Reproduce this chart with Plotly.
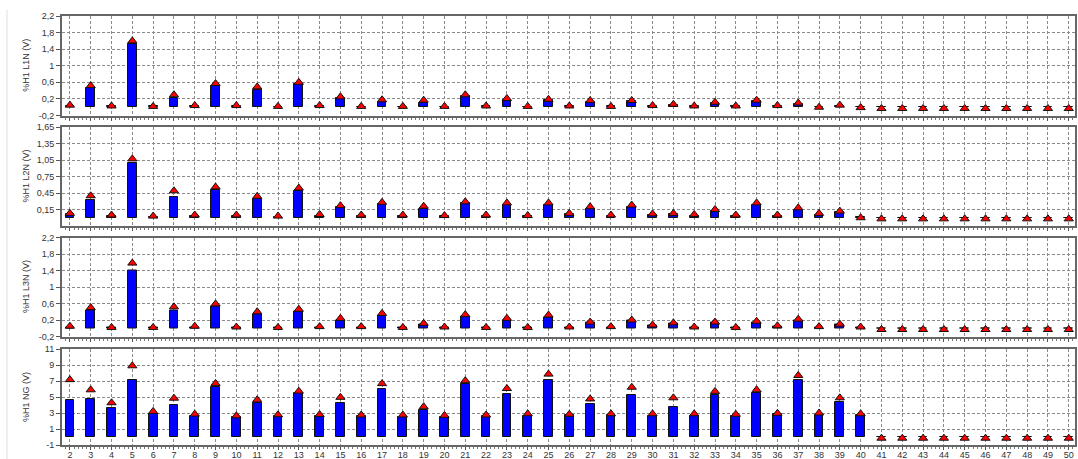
import plotly.graph_objects as go

harmonics = list(range(2, 51))

l1n_avg = [0.03, 0.46, 0.02, 1.52, 0.02, 0.22, 0.03, 0.52, 0.03, 0.41, 0.01, 0.55, 0.03, 0.22, 0.01, 0.12,
           0.01, 0.10, 0.01, 0.26, 0.02, 0.17, 0.01, 0.18, 0.02, 0.13, 0.02, 0.14, 0.02, 0.05, 0.02, 0.10,
           0.02, 0.15, 0.03, 0.08, 0.01, 0.03, 0.0, 0, 0, 0, 0, 0, 0, 0, 0, 0, 0]
l1n_max = [0.05, 0.52, 0.03, 1.60, 0.02, 0.30, 0.04, 0.57, 0.04, 0.49, 0.02, 0.60, 0.04, 0.25, 0.02, 0.18,
           0.02, 0.17, 0.02, 0.30, 0.03, 0.21, 0.02, 0.19, 0.03, 0.16, 0.02, 0.16, 0.04, 0.07, 0.03, 0.12,
           0.03, 0.17, 0.04, 0.10, 0.0, 0.05, -0.01, -0.03, -0.03, -0.03, -0.03, -0.03, -0.03, -0.03, -0.03, -0.03, -0.03]

l2n_avg = [0.06, 0.33, 0.04, 0.99, 0.02, 0.38, 0.04, 0.50, 0.04, 0.34, 0.02, 0.48, 0.04, 0.20, 0.04, 0.25,
           0.03, 0.16, 0.03, 0.27, 0.03, 0.23, 0.03, 0.23, 0.06, 0.16, 0.03, 0.19, 0.05, 0.06, 0.04, 0.12,
           0.04, 0.24, 0.04, 0.15, 0.05, 0.10, 0.01, 0, 0, 0, 0, 0, 0, 0, 0, 0, 0]
l2n_max = [0.08, 0.40, 0.05, 1.07, 0.03, 0.49, 0.05, 0.56, 0.05, 0.39, 0.03, 0.54, 0.06, 0.22, 0.05, 0.28,
           0.05, 0.21, 0.04, 0.29, 0.05, 0.27, 0.04, 0.27, 0.08, 0.20, 0.05, 0.23, 0.07, 0.08, 0.06, 0.15,
           0.05, 0.27, 0.05, 0.18, 0.08, 0.12, 0.0, -0.02, -0.02, -0.02, -0.02, -0.02, -0.02, -0.02, -0.02, -0.02, -0.02]

l3n_avg = [0.03, 0.43, 0.02, 1.41, 0.01, 0.44, 0.03, 0.52, 0.02, 0.33, 0.01, 0.40, 0.03, 0.20, 0.03, 0.31,
           0.01, 0.10, 0.02, 0.28, 0.01, 0.20, 0.01, 0.27, 0.02, 0.13, 0.03, 0.18, 0.06, 0.12, 0.03, 0.13,
           0.02, 0.15, 0.04, 0.20, 0.03, 0.08, 0.03, 0, 0, 0, 0, 0, 0, 0, 0, 0, 0]
l3n_max = [0.05, 0.50, 0.02, 1.58, 0.02, 0.52, 0.05, 0.59, 0.03, 0.40, 0.02, 0.46, 0.04, 0.24, 0.04, 0.36,
           0.02, 0.12, 0.03, 0.33, 0.02, 0.24, 0.02, 0.32, 0.03, 0.15, 0.04, 0.20, 0.08, 0.13, 0.03, 0.15,
           0.02, 0.17, 0.06, 0.22, 0.04, 0.10, 0.03, -0.03, -0.03, -0.03, -0.03, -0.03, -0.03, -0.03, -0.03, -0.03, -0.03]

ng_avg = [4.6, 4.8, 3.67, 7.13, 2.9, 4.05, 2.6, 6.3, 2.5, 4.28, 2.65, 5.45, 2.63, 4.22, 2.63, 5.98,
          2.5, 3.4, 2.5, 6.67, 2.63, 5.37, 2.63, 7.08, 2.7, 4.18, 2.8, 5.24, 2.6, 3.8, 2.63, 5.29,
          2.63, 5.45, 2.84, 7.08, 2.7, 4.43, 2.8, 0, 0, 0, 0, 0, 0, 0, 0, 0, 0]
ng_max = [7.17, 5.9, 4.28, 8.9, 3.2, 4.85, 2.86, 6.7, 2.65, 4.65, 2.78, 5.73, 2.8, 4.96, 2.75, 6.67,
          2.75, 3.78, 2.7, 7.04, 2.75, 6.06, 2.9, 7.86, 2.84, 4.76, 2.9, 6.22, 2.9, 4.9, 2.9, 5.7,
          2.84, 5.9, 2.96, 7.69, 3.0, 4.9, 2.9, -0.15, -0.15, -0.15, -0.15, -0.15, -0.15, -0.15, -0.15, -0.15, -0.15]

panel_titles = ["%H1 L1N (V)", "%H1 L2N (V)", "%H1 L3N (V)", "%H1 NG (V)"]

l1n_ticks = [-0.2, 0.2, 0.6, 1, 1.4, 1.8, 2.2]
l1n_ticktext = ["-0,2", "0,2", "0,6", "1", "1,4", "1,8", "2,2"]
l2n_ticks = [0.15, 0.45, 0.75, 1.05, 1.35, 1.65]
l2n_ticktext = ["0,15", "0,45", "0,75", "1,05", "1,35", "1,65"]
l3n_ticks = [-0.2, 0.2, 0.6, 1, 1.4, 1.8, 2.2]
l3n_ticktext = ["-0,2", "0,2", "0,6", "1", "1,4", "1,8", "2,2"]
ng_ticks = [-1, 1, 3, 5, 7, 9, 11]
ng_ticktext = ["-1", "1", "3", "5", "7", "9", "11"]

W, H = 1078, 459
ML, MR, MT, MB = 62, 3, 15, 14
PH = H - MT - MB
font = "Liberation Sans, Arial, sans-serif"

panel_px = [(16, 115.5), (127, 226), (237.5, 336.5), (349, 447)]
domains = [[(H - MB - b) / PH, (H - MB - t) / PH] for t, b in panel_px]

panels = [
    (l1n_avg, l1n_max, l1n_ticks, l1n_ticktext, [-0.2, 2.2]),
    (l2n_avg, l2n_max, l2n_ticks, l2n_ticktext, [-0.15, 1.65]),
    (l3n_avg, l3n_max, l3n_ticks, l3n_ticktext, [-0.2, 2.2]),
    (ng_avg, ng_max, ng_ticks, ng_ticktext, [-1, 11]),
]

fig = go.Figure()
layout = dict(
    width=W, height=H,
    margin=dict(l=ML, r=MR, t=MT, b=MB, autoexpand=False),
    paper_bgcolor="white", plot_bgcolor="white",
    showlegend=False, bargap=0,
    font=dict(family=font, size=9, color="#333333"),
)

annotations = []
for i, (avg, mx, tv, tt, yr) in enumerate(panels):
    dom = [max(0.0, min(1.0, d)) for d in domains[i]]
    n = i + 1
    xa = "x" if n == 1 else f"x{n}"
    ya = "y" if n == 1 else f"y{n}"
    fig.add_trace(go.Bar(
        x=harmonics, y=avg, xaxis=xa, yaxis=ya, width=0.42,
        marker=dict(color="#0000FF", line=dict(color="#111111", width=1)),
    ))
    fig.add_trace(go.Scatter(
        x=harmonics, y=mx, xaxis=xa, yaxis=ya, mode="markers",
        marker=dict(symbol="triangle-up", size=8, color="#FF0000",
                    line=dict(color="#111111", width=1)),
    ))
    last = (n == 4)
    layout["xaxis" if n == 1 else f"xaxis{n}"] = dict(
        domain=[0, 1], anchor=ya, range=[1.62, 50.3],
        tickvals=harmonics, ticktext=[str(h) for h in harmonics] if last else [""] * len(harmonics),
        showticklabels=True, ticks="outside", ticklen=3, tickcolor="#555555",
        tickfont=dict(size=9, color="#333333"), ticklabelstandoff=-3,
        showgrid=True, gridcolor="#8a8a8a", griddash="3px,2px", gridwidth=1,
        showline=True, mirror=True, linecolor="#666666", linewidth=2,
        zeroline=False, automargin=False,
        minor=dict(dtick=0.2, tick0=0, ticks="outside", ticklen=2, tickcolor="#777777", showgrid=False),
    )
    layout["yaxis" if n == 1 else f"yaxis{n}"] = dict(
        domain=dom, anchor=xa, range=yr,
        tickvals=tv, ticktext=tt, ticks="outside", ticklen=4, tickcolor="#555555",
        tickfont=dict(size=9, color="#333333"),
        showgrid=True, gridcolor="#8a8a8a", griddash="3px,2px", gridwidth=1,
        showline=True, mirror=True, linecolor="#666666", linewidth=2,
        zeroline=False, automargin=False,
    )
    annotations.append(dict(
        text=panel_titles[i], textangle=-90, showarrow=False,
        xref="paper", yref="paper", x=(26 - ML) / (W - ML - MR), y=(dom[0] + dom[1]) / 2,
        xanchor="center", yanchor="middle", font=dict(size=9, color="#333333"),
    ))

layout["annotations"] = annotations
layout["shapes"] = [dict(type="line", xref="paper", yref="paper",
                         x0=(7 - ML) / (W - ML - MR), x1=(7 - ML) / (W - ML - MR),
                         y0=-MB / PH, y1=(PH + 5) / PH,
                         line=dict(color="#dddddd", width=1))]
fig.update_layout(**layout)
fig.write_html("out.html")
